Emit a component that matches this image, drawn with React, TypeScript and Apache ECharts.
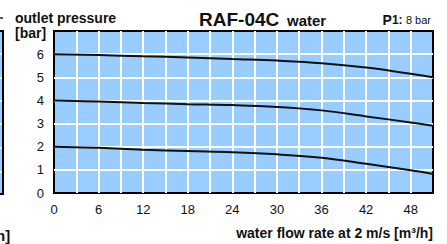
import React, { useEffect, useRef } from "react";
import * as echarts from "echarts";

const flow = [0, 6, 12, 18, 24, 30, 36, 42, 48, 51];
const p6 = [6.0, 5.96, 5.91, 5.86, 5.79, 5.72, 5.61, 5.42, 5.15, 5.0];
const p4 = [4.0, 3.95, 3.89, 3.84, 3.8, 3.72, 3.57, 3.31, 3.05, 2.91];
const p2 = [2.0, 1.95, 1.87, 1.81, 1.76, 1.67, 1.52, 1.26, 0.98, 0.82];
const seriesList = [p6, p4, p2];

const BLUE = "#99ccff";
const FONT = "Liberation Sans, Arial, sans-serif";

export default function App() {
  const ref = useRef<HTMLDivElement>(null);
  useEffect(() => {
    document.body.style.margin = "0";
    const chart = echarts.init(ref.current!, undefined, { renderer: "svg" });
    chart.setOption({
      animation: false,
      backgroundColor: "#ffffff",
      grid: {
        left: 54,
        right: 14,
        top: 31,
        bottom: 51,
        show: true,
        backgroundColor: BLUE,
        borderColor: "#000",
        borderWidth: 2,
      },
      xAxis: {
        type: "value",
        min: 0,
        max: 51,
        interval: 3,
        axisLine: { show: false },
        axisTick: { show: false },
        axisLabel: {
          formatter: (v: number) => (v % 6 === 0 ? String(v) : ""),
          color: "#111",
          fontFamily: FONT,
          fontSize: 13,
          margin: 10,
        },
        splitLine: {
          show: true,
          showMinLine: false,
          showMaxLine: false,
          lineStyle: { color: "#ffffff", width: 2 },
        },
      },
      yAxis: {
        type: "value",
        min: 0,
        max: 7,
        interval: 1,
        axisLine: { show: false },
        axisTick: { show: false },
        axisLabel: {
          formatter: (v: number) => (v <= 6 ? String(v) : ""),
          color: "#111",
          fontFamily: FONT,
          fontSize: 13,
          margin: 10,
        },
        splitLine: {
          show: true,
          showMinLine: false,
          showMaxLine: false,
          lineStyle: { color: "#ffffff", width: 2 },
        },
      },
      series: seriesList.map((vals) => ({
        type: "line",
        data: flow.map((x, i) => [x, vals[i]]),
        smooth: 0.4,
        symbol: "none",
        lineStyle: { color: "#111", width: 2 },
        z: 5,
      })),
      graphic: [
        {
          type: "rect",
          shape: { x: -20, y: 31, width: 23, height: 163 },
          style: { fill: BLUE, stroke: "#000", lineWidth: 2 },
          silent: true,
        },
        ...[54, 78, 101, 124, 148, 172].map((y) => ({
          type: "line",
          shape: { x1: 0, y1: y, x2: 2, y2: y },
          style: { stroke: "#fff", lineWidth: 2 },
          silent: true,
        })),
        {
          type: "line",
          shape: { x1: 0, y1: 18, x2: 3, y2: 18 },
          style: { stroke: "#222", lineWidth: 1.5 },
          silent: true,
        },
        {
          type: "text",
          x: -4,
          y: 235,
          style: {
            text: "n]",
            font: `bold 15px ${FONT}`,
            fill: "#111",
            verticalAlign: "middle",
          },
        },
        {
          type: "text",
          x: 15,
          y: 18,
          style: {
            text: "outlet pressure",
            font: `bold 14px ${FONT}`,
            fill: "#111",
            verticalAlign: "middle",
          },
        },
        {
          type: "text",
          x: 15,
          y: 33,
          style: {
            text: "[bar]",
            font: `bold 14px ${FONT}`,
            fill: "#111",
            verticalAlign: "middle",
          },
        },
        {
          type: "text",
          x: 199,
          y: 19,
          style: {
            text: "RAF-04C",
            font: `bold 19px ${FONT}`,
            fill: "#111",
            verticalAlign: "middle",
          },
        },
        {
          type: "text",
          x: 287,
          y: 20,
          style: {
            text: "water",
            font: `bold 15px ${FONT}`,
            fill: "#111",
            verticalAlign: "middle",
          },
        },
        {
          type: "text",
          x: 431,
          y: 20,
          style: {
            text: "{p|P}{s|1:} {n|8 bar}",
            align: "right",
            verticalAlign: "middle",
            fill: "#111",
            rich: {
              p: { font: `bold 14px ${FONT}`, fill: "#111" },
              s: { font: `bold 12px ${FONT}`, fill: "#111" },
              n: { font: `11px ${FONT}`, fill: "#111" },
            },
          },
        },
        {
          type: "text",
          x: 433,
          y: 233,
          style: {
            text: "water flow rate at 2 m/s [m³/h]",
            font: `bold 14px ${FONT}`,
            fill: "#111",
            align: "right",
            verticalAlign: "middle",
          },
        },
      ],
    });
    return () => chart.dispose();
  }, []);
  return <div ref={ref} style={{ width: 447, height: 244 }} />;
}
